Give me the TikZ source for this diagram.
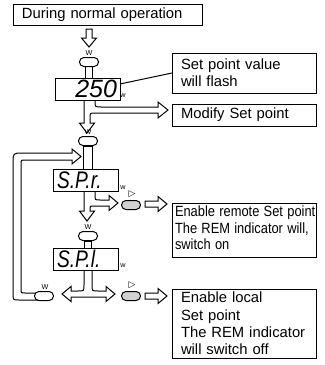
\documentclass[tikz,border=0pt]{standalone}
\usepackage{graphicx}
\usepackage{fontspec}
\setmainfont{Liberation Sans}
\newfontfamily\symfont{DejaVu Sans}

\begin{document}
\begin{tikzpicture}[x=0.5pt,y=-0.5pt,line width=0.5pt,
every node/.style={
inner sep=0pt,
outer sep=0pt,
},
box/.style={
draw,
anchor=north west,
align=left,
inner xsep=4.5pt,
text width=63pt,
font=\fontsize{7.4}{8.6}\selectfont,
},
display/.style={draw,fill=white,anchor=north west,minimum width=32.5pt,minimum height=11pt},
key/.style={draw,fill=white,rounded corners=2.2pt,minimum width=9.5pt,minimum height=4.5pt},
greykey/.style={key,fill=black!18},
tag/.style={font=\fontsize{3.6}{4}\selectfont},
ptag/.style={font=\symfont\fontsize{4.5}{5}\selectfont},
blockarrow/.style={draw,fill=white}]

\useasboundingbox (0,0) rectangle (325,365);

%start
\node[box,text width=85.5pt,minimum height=10.5pt] (start) at (13,4) {During normal operation};
\draw[blockarrow] (86,29) -- (86,38) -- (81.5,38) -- (89,47) -- (96.5,38) -- (92,38) -- (92,29) -- cycle;

%stems between keys and displays
\draw[fill=white] (85,66) rectangle (92,79);
\draw[fill=white] (83,146) rectangle (92,170);
\draw[fill=white] (84,241) rectangle (91,249);

%down to next key, and off to Modify Set point
\draw[blockarrow] (84,100) -- (84,123) -- (79.5,123) -- (87,133) -- (94.5,123) -- (90,123) -- (90,118)
  .. controls (90,113) .. (95,113) -- (158,113) -- (158,118) -- (168,110) -- (158,102) -- (158,107)
  -- (101,107) .. controls (95,107) .. (95,101) -- (95,100);
\draw[blockarrow] (84,191) -- (84,211) -- (79.5,211) -- (87,221) -- (94.5,211) -- (90,211) -- (90,210)
  .. controls (90,206) .. (94,206) -- (109,206) -- (109,210.5) -- (118,203) -- (109,195.5) -- (109,200)
  -- (100,200) .. controls (95,200) .. (95,195) -- (95,191);

%loop back
\draw[blockarrow] (38,300) -- (19,300) .. controls (13,300) .. (13,294) -- (13,163)
  .. controls (13,153) .. (23,153) -- (72,153) -- (72,149) -- (81,156.5) -- (72,164) -- (72,160)
  -- (25,160) .. controls (21,160) .. (21,164) -- (21,289) .. controls (21,293) .. (25,293) -- (38,293);

%fork under S.P.l.
\draw[blockarrow] (84,270) -- (84,285) .. controls (84,291) .. (78,291) -- (71,291) -- (71,286.5) -- (62,294)
  -- (71,301.5) -- (71,297) -- (106,297) -- (106,301.5) -- (115,294) -- (106,286.5) -- (106,291)
  -- (98,291) .. controls (92,291) .. (92,285) -- (92,270);

%arrows to the result boxes
\draw[blockarrow] (145,201) -- (158,201) -- (158,196.5) -- (167,204) -- (158,211.5) -- (158,207) -- (145,207) -- cycle;
\draw[blockarrow] (145,293) -- (158,293) -- (158,288.5) -- (167,296) -- (158,303.5) -- (158,299) -- (145,299) -- cycle;

%displays
\node[display] (disp1) at (55,78) {};
\node[anchor=east,font=\fontsize{12.5}{12.5}\itshape] (pv) at ([xshift=-1.5pt]disp1.east) {250};
\node[display] (disp2) at (53,169) {};
\node[anchor=west,font=\fontsize{12}{12}\itshape] (spr) at ([xshift=2pt]disp2.west) {\scalebox{0.8}[1]{S.P.r.}};
\node[display] (disp3) at (53,248) {};
\node[anchor=west,font=\fontsize{12}{12}\itshape] (spl) at ([xshift=2pt]disp3.west) {\scalebox{0.8}[1]{S.P.l.}};

%keys
\node[key] (key1) at (89,62) {};
\node[key] (key2) at (88,141) {};
\node[key] (key3) at (88,236) {};
\node[key] (key4) at (44,296) {};
\node[greykey] (key5) at (131,205) {};
\node[greykey] (key6) at (131,296) {};

\node[tag] (w1) at (89,53) {W};
\node[tag] (w2) at (88,132) {W};
\node[tag] (w3) at (88,227) {W};
\node[tag] (w4) at (45,287) {W};
\node[tag] (d1) at (123,96) {w};
\node[tag] (d2) at (123,188) {w};
\node[tag] (d3) at (123,266) {w};
\node[ptag] (p1) at (132,194) {▷};
\node[ptag] (p2) at (132,285) {▷};

%result boxes
\node[box,minimum height=20pt] (flash) at (172,53) {Set point value\\will flash};
\node[box,minimum height=11pt] (modify) at (172,104) {Modify Set point};
\node[box,inner xsep=1.5pt,text width=69pt,minimum height=27pt,font=\fontsize{7.4}{8.2}\selectfont] (remote) at (172,203)
  {\scalebox{0.87}[1]{\begin{tabular}{@{}l@{}}Enable remote Set point\\The REM indicator will,\\switch on\end{tabular}}};
\node[box,minimum height=34.5pt] (local) at (172,289) {Enable local\\Set point\\The REM indicator\\will switch off};

\draw ([yshift=2.5pt]disp1.east) -- (flash.west);
\end{tikzpicture}
\end{document}
